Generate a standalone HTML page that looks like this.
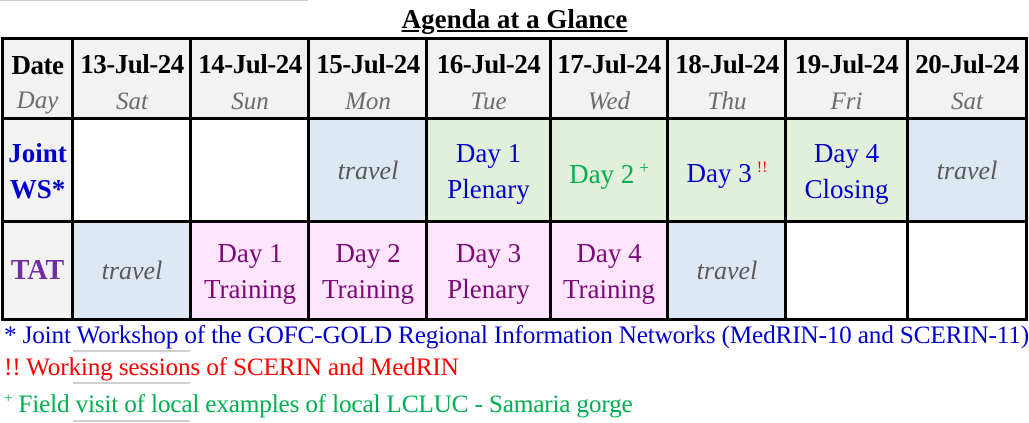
<!DOCTYPE html>
<html><head><meta charset="utf-8"><style>
body{margin:0;width:1029px;height:423px;background:#fff;position:relative;overflow:hidden;font-family:"Liberation Serif",serif;}
.c{position:absolute;box-sizing:border-box;display:flex;flex-direction:column;align-items:center;justify-content:center;text-align:center;line-height:1.2;}
.hd{background:#f2f2f2;}
.d{font-weight:bold;font-size:27px;color:#000;line-height:30px;letter-spacing:-0.5px;white-space:nowrap}
.w{font-style:italic;font-size:25px;color:#6b6b6b;line-height:30px;margin-top:8px}
.hd.top{padding-top:8px}
.bl{background:#dde8f3}.gr{background:#e2efda}.pk{background:#ffe4fe}
.tr{font-style:italic;font-size:26px;color:#595959}
.p{font-size:27px;color:#7a0a78;line-height:36px}
.b{font-size:27px;color:#0000cc;line-height:36px}
.v{position:absolute;background:#000;width:3px;top:37px;height:283px}
.h{position:absolute;background:#000;height:3px;left:1px;width:1027px}
.fn{position:absolute;left:4px;font-size:25.3px;white-space:nowrap;letter-spacing:-0.2px}
.gl{position:absolute;left:73px;width:117px;height:2px;background:#d0d0d0}
</style></head><body>
<div style="position:absolute;left:0;top:0;width:308px;height:1px;background:#ccc"></div>
<div style="position:absolute;left:0;width:1029px;top:4px;text-align:center;font-size:27px;font-weight:bold;text-decoration:underline">Agenda at a Glance</div>

<div class="c hd top" style="left:2px;top:39px;width:71px;height:80px"><div class="d">Date</div><div class="w" style="margin-top:6px">Day</div></div>
<div class="c hd top" style="left:73px;top:39px;width:118px;height:80px"><div class="d">13-Jul-24</div><div class="w">Sat</div></div>
<div class="c hd top" style="left:191px;top:39px;width:118px;height:80px"><div class="d">14-Jul-24</div><div class="w">Sun</div></div>
<div class="c hd top" style="left:309px;top:39px;width:118px;height:80px"><div class="d">15-Jul-24</div><div class="w">Mon</div></div>
<div class="c hd top" style="left:427px;top:39px;width:123px;height:80px"><div class="d">16-Jul-24</div><div class="w">Tue</div></div>
<div class="c hd top" style="left:550px;top:39px;width:118px;height:80px"><div class="d">17-Jul-24</div><div class="w">Wed</div></div>
<div class="c hd top" style="left:668px;top:39px;width:118px;height:80px"><div class="d">18-Jul-24</div><div class="w">Thu</div></div>
<div class="c hd top" style="left:786px;top:39px;width:121px;height:80px"><div class="d">19-Jul-24</div><div class="w">Fri</div></div>
<div class="c hd top" style="left:907px;top:39px;width:120px;height:80px"><div class="d">20-Jul-24</div><div class="w">Sat</div></div>

<div class="c hd" style="left:2px;top:119px;width:71px;height:103px;color:#0000cc;font-weight:bold;font-size:27px;line-height:36px">Joint<br>WS*</div>
<div class="c bl" style="left:309px;top:119px;width:118px;height:103px"><span class="tr">travel</span></div>
<div class="c gr" style="left:427px;top:119px;width:123px;height:103px"><span class="b">Day 1<br>Plenary</span></div>
<div class="c gr" style="left:550px;top:119px;width:118px;height:103px"><span class="b" style="color:#00b050">Day 2<sup style="font-size:17px;margin-left:5px">+</sup></span></div>
<div class="c gr" style="left:668px;top:119px;width:118px;height:103px"><span class="b">Day 3<sup style="font-size:16px;color:#ff0000;margin-left:5px">!!</sup></span></div>
<div class="c gr" style="left:786px;top:119px;width:121px;height:103px"><span class="b">Day 4<br>Closing</span></div>
<div class="c bl" style="left:907px;top:119px;width:120px;height:103px"><span class="tr">travel</span></div>

<div class="c hd" style="left:2px;top:222px;width:71px;height:98px;color:#7030a0;font-weight:bold;font-size:28px">TAT</div>
<div class="c bl" style="left:73px;top:222px;width:118px;height:98px"><span class="tr">travel</span></div>
<div class="c pk" style="left:191px;top:222px;width:118px;height:98px"><span class="p">Day 1<br>Training</span></div>
<div class="c pk" style="left:309px;top:222px;width:118px;height:98px"><span class="p">Day 2<br>Training</span></div>
<div class="c pk" style="left:427px;top:222px;width:123px;height:98px"><span class="p">Day 3<br>Plenary</span></div>
<div class="c pk" style="left:550px;top:222px;width:118px;height:98px"><span class="p">Day 4<br>Training</span></div>
<div class="c bl" style="left:668px;top:222px;width:118px;height:98px"><span class="tr">travel</span></div>

<div class="h" style="top:37px"></div>
<div class="h" style="top:117px"></div>
<div class="h" style="top:220px"></div>
<div class="h" style="top:318px"></div>
<div class="v" style="left:1px"></div>
<div class="v" style="left:71px"></div>
<div class="v" style="left:189px"></div>
<div class="v" style="left:307px"></div>
<div class="v" style="left:425px"></div>
<div class="v" style="left:549px"></div>
<div class="v" style="left:666px"></div>
<div class="v" style="left:784px"></div>
<div class="v" style="left:906px"></div>
<div class="v" style="left:1025px"></div>

<div class="gl" style="top:350px"></div>
<div class="gl" style="top:382px"></div>
<div class="gl" style="top:420px"></div>
<div class="fn" style="top:321px;color:#0000cc">* Joint Workshop of the GOFC-GOLD Regional Information Networks (MedRIN-10 and SCERIN-11)</div>
<div class="fn" style="top:353px;color:#ff0000">!! Working sessions of SCERIN and MedRIN</div>
<div class="fn" style="top:390px;color:#00b050"><sup style="font-size:15px">+</sup> Field visit of local examples of local LCLUC - Samaria gorge</div>
</body></html>
